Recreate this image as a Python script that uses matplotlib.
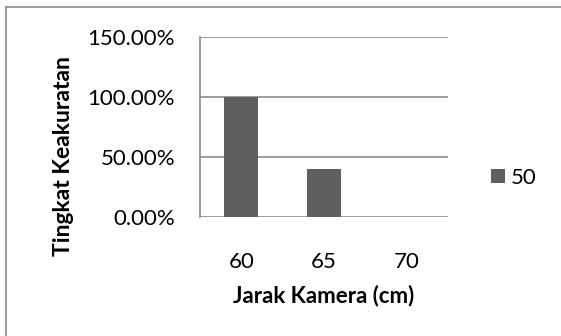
import matplotlib
matplotlib.use("Agg")
import matplotlib.pyplot as plt
from matplotlib.lines import Line2D
from matplotlib.ticker import PercentFormatter

jarak = ["60", "65", "70"]
akurasi_50 = [100.0, 40.0, 0.0]
seri = "50"

plt.rcParams['font.family'] = ['Lato', 'DejaVu Sans']

fig = plt.figure(figsize=(5.61, 3.36), dpi=100)
ax = fig.add_axes([0.3565, 0.354, 0.442, 0.536])

x = range(len(jarak))
ax.bar(x, akurasi_50, width=0.41, color="#5f5f5f", label=seri, zorder=3)

ax.set_xlim(-0.5, 2.5)
ax.set_ylim(0, 150)
ax.set_yticks([0, 50, 100, 150])
ax.yaxis.set_major_formatter(PercentFormatter(decimals=2))
ax.set_xticks(list(x))
ax.set_xticklabels(jarak)
ax.grid(axis="y", color="#8c8c8c", linewidth=1.2, zorder=0)
for s in ["top", "right", "bottom"]:
    ax.spines[s].set_visible(False)
ax.spines["left"].set_color("#8c8c8c")
ax.spines["left"].set_linewidth(1.2)
ax.tick_params(axis="both", length=0, labelsize=16, colors="black")
ax.tick_params(axis="y", pad=18)
ax.tick_params(axis="x", pad=25)

ax.set_xlabel("Jarak Kamera (cm)", fontsize=16, fontweight="bold", labelpad=9)
ax.set_ylabel("Tingkat Keakuratan", fontsize=16.5, fontweight="bold",
              labelpad=10, y=0.34)

fig.legend(loc="center left", bbox_to_anchor=(0.84, 0.47), frameon=False,
           fontsize=16, handlelength=0.6, handleheight=0.6, handletextpad=0.3)

# border of the chart area (only top and left show in the crop)
fig.add_artist(Line2D([0.011, 1.0], [0.979, 0.979], transform=fig.transFigure,
                      color="#8c8c8c", linewidth=1.2))
fig.add_artist(Line2D([0.011, 0.011], [0.0, 0.979], transform=fig.transFigure,
                      color="#8c8c8c", linewidth=1.2))

fig.savefig("out.png", dpi=100)
